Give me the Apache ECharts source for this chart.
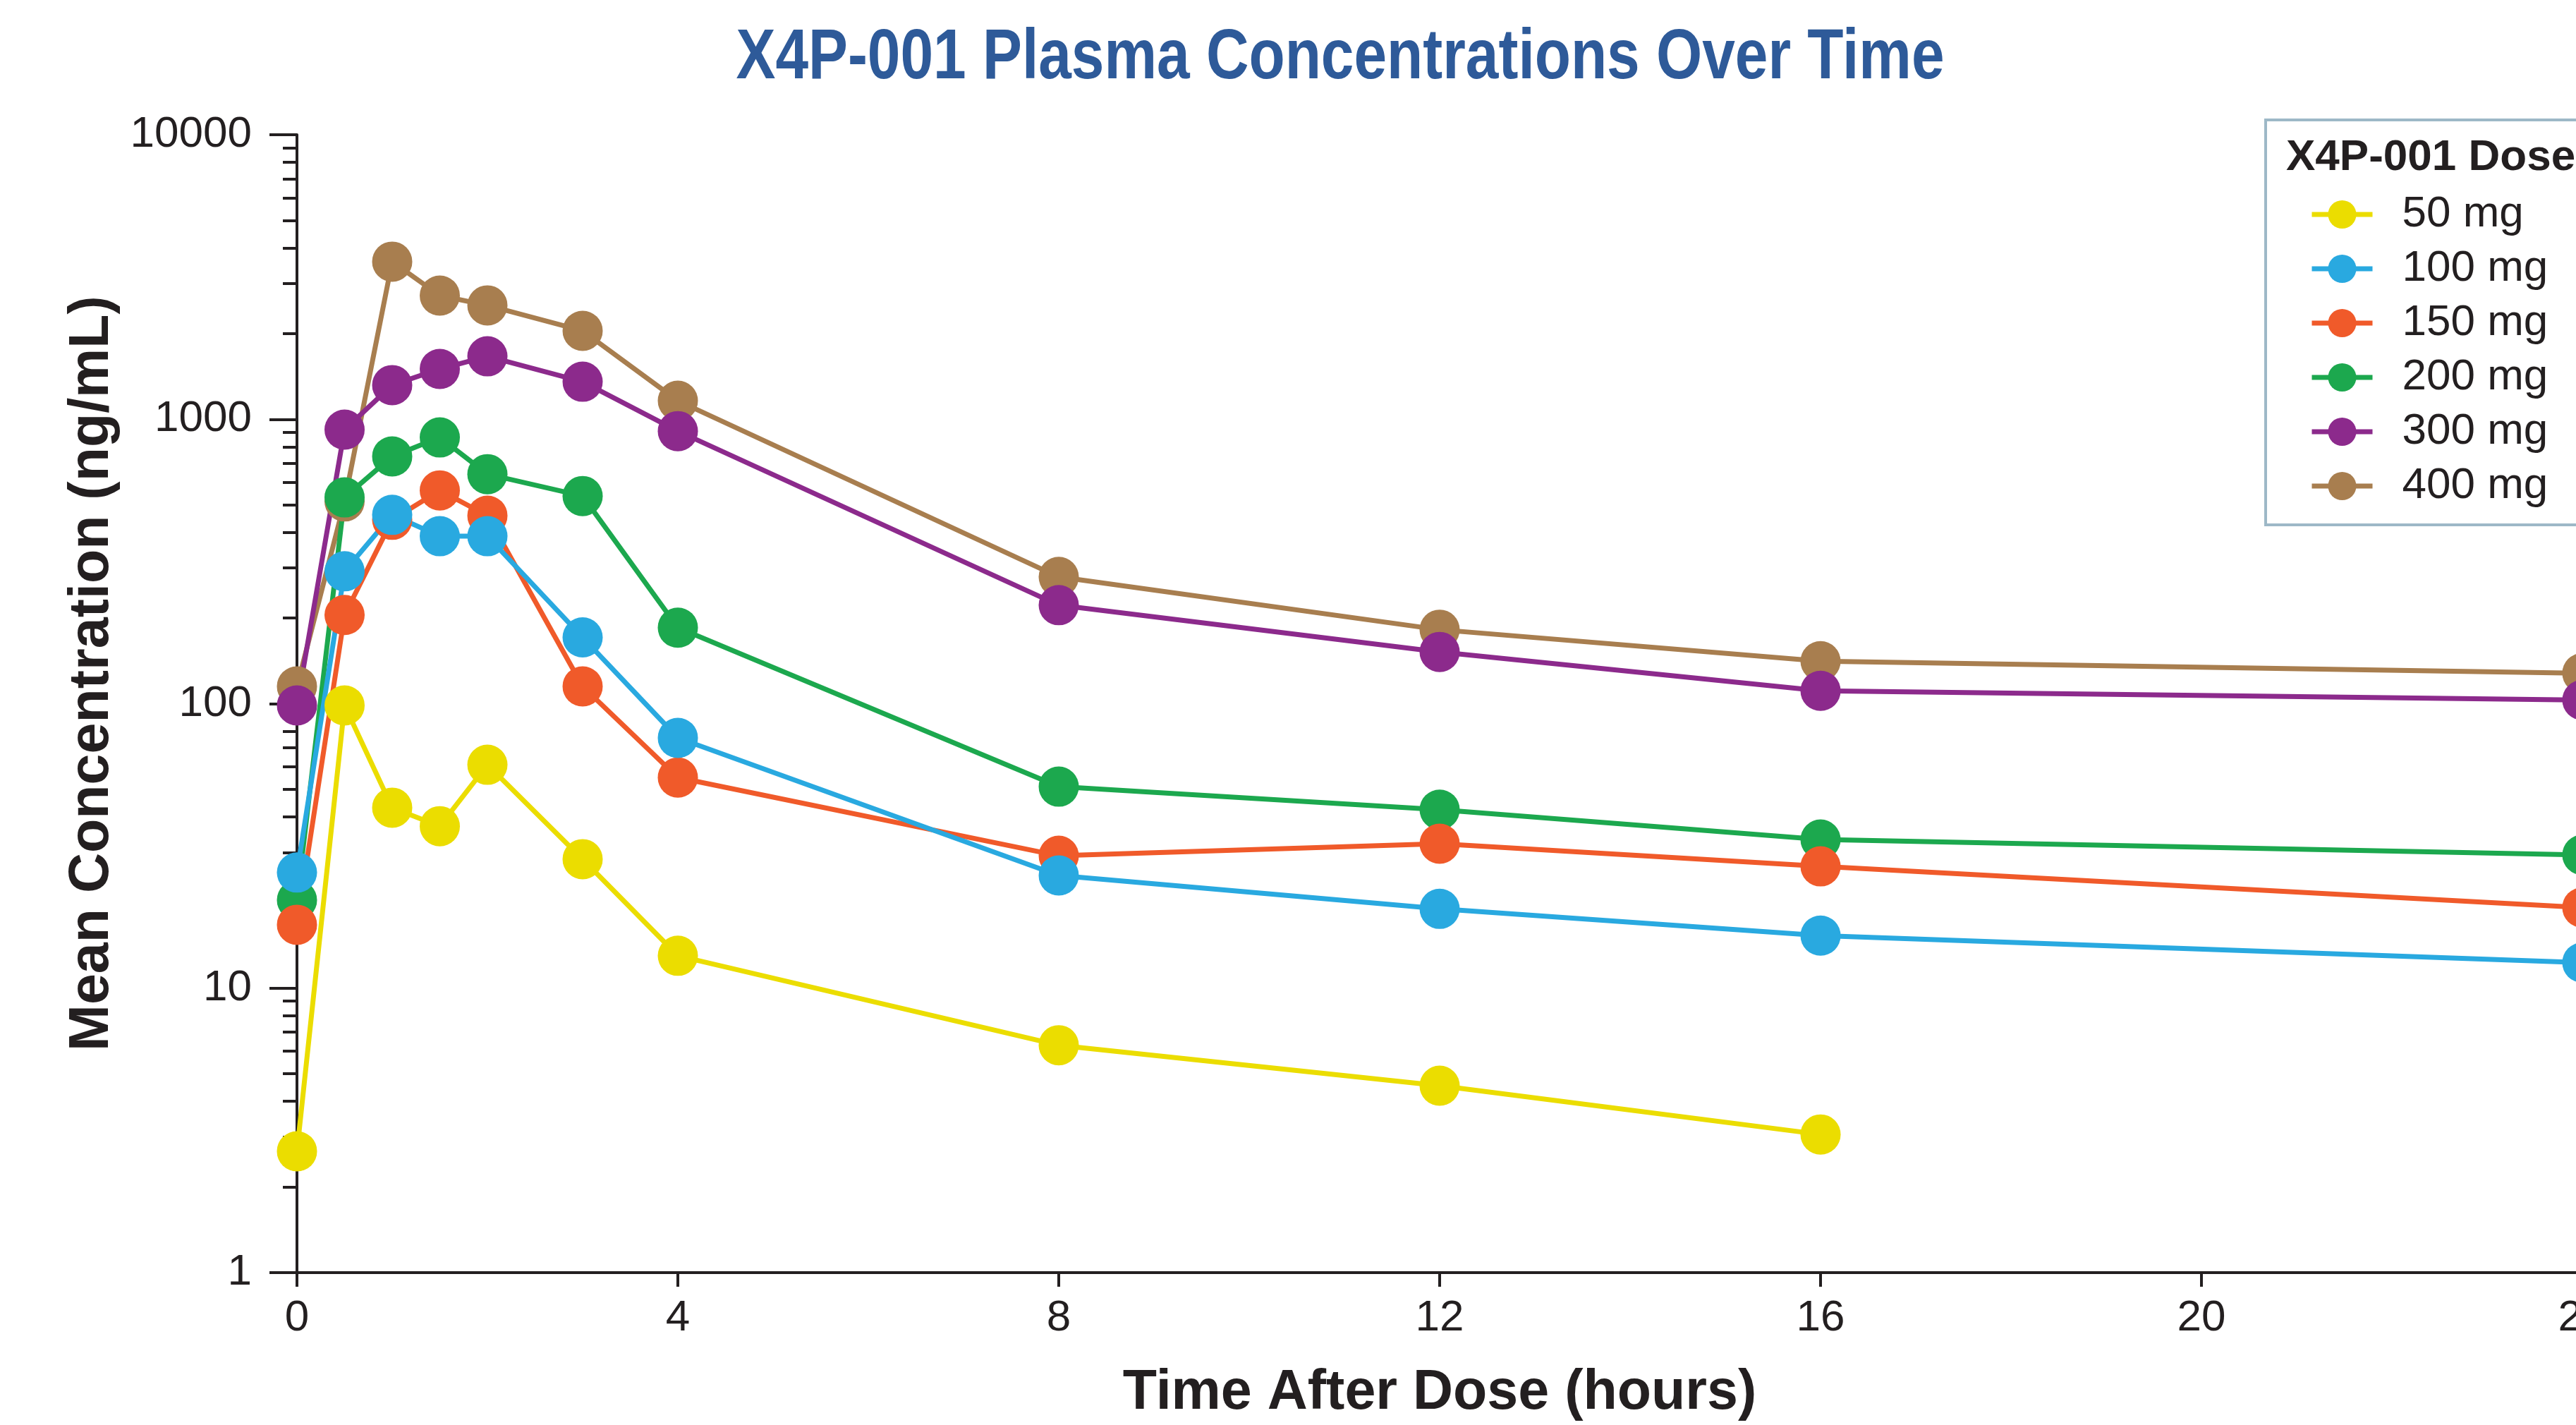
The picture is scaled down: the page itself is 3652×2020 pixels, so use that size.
<!DOCTYPE html>
<html>
<head>
<meta charset="utf-8">
<script src="https://cdn.jsdelivr.net/npm/echarts@6/dist/echarts.min.js"></script>
<style>
html,body{margin:0;padding:0;background:#ffffff;}
#chart{width:3652px;height:2020px;}
</style>
</head>
<body>
<div id="chart"></div>
<script>
// ---- data ----
const timeHours = [0, 0.5, 1, 1.5, 2, 3, 4, 8, 12, 16, 24];
const doseNames = ['50 mg', '100 mg', '150 mg', '200 mg', '300 mg', '400 mg'];
const conc50  = [2.67, 98.6, 43.1, 37.1, 61, 28.4, 13.0, 6.3, 4.54, 3.06, null];
const conc100 = [25.5, 292, 461, 388, 388, 171, 75.8, 24.9, 19.0, 15.3, 12.3];
const conc150 = [16.7, 205, 443, 562, 458, 115, 55, 29.2, 32.2, 26.8, 19.2];
const conc200 = [20.4, 531, 740, 863, 641, 537, 185, 51.1, 42.4, 33.3, 29.4];
const conc300 = [98.6, 919, 1318, 1502, 1664, 1355, 908, 222, 152, 111, 103];
const conc400 = [115, 514, 3580, 2720, 2512, 2045, 1161, 279, 182, 141, 128];
const doseColors = ['#ebdd00', '#29a9e0', '#f05a2a', '#1ca84e', '#8c2a8c', '#a87e4f'];
const xTicks = [0, 4, 8, 12, 16, 20, 24];
const yMajorTicks = [1, 10, 100, 1000, 10000];
const yMinorTicks = [2,3,4,5,6,7,8,9, 20,30,40,50,60,70,80,90, 200,300,400,500,600,700,800,900, 2000,3000,4000,5000,6000,7000,8000,9000];

const allConc = [conc50, conc100, conc150, conc200, conc300, conc400];

const axisColor = '#231f20';
const baseFont = '"Liberation Sans", Arial, Helvetica, sans-serif';

function pairs(vals) {
  const out = [];
  for (let i = 0; i < timeHours.length; i++) {
    if (vals[i] != null) out.push([timeHours[i], vals[i]]);
  }
  return out;
}

// draw higher doses first so lower doses sit on top
const series = [];
for (let k = doseNames.length - 1; k >= 0; k--) {
  series.push({
    name: doseNames[k],
    type: 'line',
    data: pairs(allConc[k]),
    symbol: 'circle',
    symbolSize: 57,
    clip: false,
    color: doseColors[k],
    lineStyle: { width: 7, color: doseColors[k] },
    itemStyle: { color: doseColors[k] },
    emphasis: { disabled: true },
    z: 2
  });
}

const chart = echarts.init(document.getElementById('chart'), null, { renderer: 'canvas' });
chart.setOption({
  backgroundColor: '#ffffff',
  animation: false,
  title: [
    {
      text: 'X4P-001 Dose',
      left: 3236,
      top: 188,
      textStyle: { fontFamily: baseFont, fontWeight: 'bold', fontSize: 62, color: axisColor }
    }
  ],
  graphic: [
    {
      type: 'text',
      x: 1900,
      y: 83,
      scaleX: 0.83,
      z: 10,
      style: {
        text: 'X4P-001 Plasma Concentrations Over Time',
        fontFamily: baseFont,
        fontWeight: 'bold',
        fontSize: 101,
        fill: '#2e5a99',
        align: 'center',
        verticalAlign: 'middle'
      }
    }
  ],
  legend: {
    data: doseNames,
    orient: 'vertical',
    left: 3212,
    top: 170,
    padding: [103, 160, 24, 62],
    itemGap: 15,
    itemWidth: 86,
    itemHeight: 50,
    borderColor: '#9db8c7',
    borderWidth: 4,
    backgroundColor: '#ffffff',
    lineStyle: { width: 7 },
    textStyle: { fontFamily: baseFont, fontSize: 62, color: axisColor, padding: [0, 0, 0, 37] },
    selectedMode: false
  },
  grid: { left: 421, right: -9, top: 191, bottom: 216, containLabel: false, outerBoundsMode: 'none' },
  xAxis: {
    type: 'value',
    min: 0,
    max: 24,
    interval: 4,
    name: 'Time After Dose (hours)',
    nameLocation: 'middle',
    nameGap: 132,
    nameTextStyle: { fontFamily: baseFont, fontWeight: 'bold', fontSize: 79, color: axisColor },
    axisLine: { show: true, onZero: false, lineStyle: { color: axisColor, width: 4 } },
    axisTick: { show: true, inside: false, length: 20, lineStyle: { color: axisColor, width: 4 } },
    axisLabel: {
      customValues: xTicks,
      margin: 34,
      fontFamily: baseFont,
      fontSize: 62,
      color: axisColor,
      hideOverlap: false
    },
    splitLine: { show: false }
  },
  yAxis: [
    {
      type: 'log',
      logBase: 10,
      min: 1,
      max: 10000,
      name: 'Mean Concentration (ng/mL)',
      nameLocation: 'middle',
      nameGap: 250,
      nameTextStyle: { fontFamily: baseFont, fontWeight: 'bold', fontSize: 79, color: axisColor, padding: [0, 0, 0, 86] },
      axisLine: { show: true, lineStyle: { color: axisColor, width: 4 } },
      axisTick: { show: true, inside: false, length: 39, customValues: yMajorTicks, lineStyle: { color: axisColor, width: 4 } },
      axisLabel: {
        customValues: yMajorTicks,
        margin: 64,
        fontFamily: baseFont,
        fontSize: 62,
        color: axisColor,
        formatter: function (v) { return String(Math.round(v)); }
      },
      splitLine: { show: false },
      minorTick: { show: false }
    },
    {
      type: 'log',
      logBase: 10,
      min: 1,
      max: 10000,
      position: 'left',
      axisLine: { show: false },
      axisTick: { show: true, inside: false, length: 20, customValues: yMinorTicks, lineStyle: { color: axisColor, width: 4 } },
      axisLabel: { show: false },
      splitLine: { show: false }
    }
  ],
  series: series
});
</script>
</body>
</html>
